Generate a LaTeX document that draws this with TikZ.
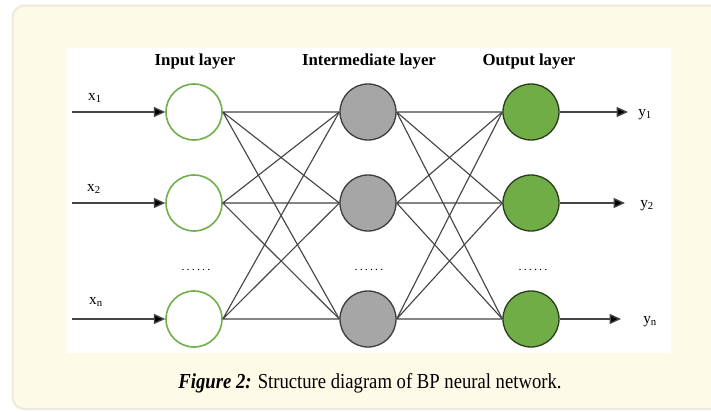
\documentclass[tikz,border=0pt]{standalone}
\usepackage{fontspec}
\setmainfont{Liberation Serif}
\newfontfamily\dotfont[LetterSpace=18]{Liberation Serif}
\usetikzlibrary{arrows.meta}

\definecolor{panelcream}{HTML}{FEFAE8}
\definecolor{panelrim}{HTML}{EDE9DE}
\definecolor{inrim}{HTML}{6FB04A}
\definecolor{hidfill}{HTML}{A6A6A6}
\definecolor{hidrim}{HTML}{3F3F3F}
\definecolor{outfill}{HTML}{70AD47}
\definecolor{outrim}{HTML}{2C3F20}
\definecolor{wire}{HTML}{454545}

\begin{document}
\begin{tikzpicture}
        [x=0.75pt, y=-0.75pt,
        neuron/.style={circle, draw, minimum size=42pt, inner sep=0pt},
        input/.style={neuron, draw=inrim, fill=white, line width=1.2pt},
        hidden/.style={neuron, draw=hidrim, fill=hidfill, line width=1pt},
        output/.style={neuron, draw=outrim, fill=outfill, line width=1pt},
        edge/.style={wire, line width=0.85pt},
        signal/.style={wire, line width=1pt, -{Triangle[length=8.5pt, width=7.5pt, fill=black]}},
        layer/.style={font=\fontsize{12.6}{14}\selectfont\bfseries, anchor=base},
        var/.style={font=\fontsize{11.5}{13}\selectfont, anchor=base},
        gap/.style={font=\fontsize{9}{11}\dotfont, anchor=base},
        inner sep=0pt]

        % page, cream panel and white figure area
        \useasboundingbox (0,0) rectangle (711,411);
        \fill[white] (0,0) rectangle (711,411);
        \filldraw[fill=panelcream, draw=panelrim, line width=1.5pt, rounded corners=9pt]
            (12.5,5.5) rectangle (740,409);
        \fill[white] (67,48) rectangle (671,353);

        % layer titles
        \node[layer] (tin) at (195,65) {Input layer};
        \node[layer] (thid) at (369,65) {Intermediate layer};
        \node[layer] (tout) at (529,65) {Output layer};

        % neurons
        \node[input] (i1) at (194,112) {};
        \node[input] (i2) at (194,203) {};
        \node[input] (in) at (194,319) {};
        \node[hidden] (h1) at (368,112) {};
        \node[hidden] (h2) at (368,203) {};
        \node[hidden] (hn) at (368,319) {};
        \node[output] (o1) at (531,112) {};
        \node[output] (o2) at (531,203) {};
        \node[output] (on) at (531,319) {};

        % the "......" between row 2 and row n
        \node[gap] (gin) at (196,270) {......};
        \node[gap] (ghid) at (369,270) {......};
        \node[gap] (gout) at (533,270) {......};

        % input layer -> intermediate layer
        \draw[edge] (i1.east) -- (h1.west) (i1.east) -- (h2.west) (i1.east) -- (hn.west);
        \draw[edge] (i2.east) -- (h1.west) (i2.east) -- (h2.west) (i2.east) -- (hn.west);
        \draw[edge] (in.east) -- (h1.west) (in.east) -- (h2.west) (in.east) -- (hn.west);

        % intermediate layer -> output layer
        \draw[edge] (h1.east) -- (o1.west) (h1.east) -- (o2.west) (h1.east) -- (on.west);
        \draw[edge] (h2.east) -- (o1.west) (h2.east) -- (o2.west) (h2.east) -- (on.west);
        \draw[edge] (hn.east) -- (o1.west) (hn.east) -- (o2.west) (hn.east) -- (on.west);

        % inputs: free ends left of the input layer
        \coordinate (x1) at (72,112);
        \coordinate (x2) at (72,203);
        \coordinate (xn) at (72,319);
        \draw[signal] (x1) -- (i1.west);
        \draw[signal] (x2) -- (i2.west);
        \draw[signal] (xn) -- (in.west);
        \node[var] (lx1) at (95,100) {x\textsubscript{1}};
        \node[var] (lx2) at (94,191) {x\textsubscript{2}};
        \node[var] (lxn) at (96,304) {x\textsubscript{n}};

        % outputs: free ends right of the output layer
        \coordinate (y1) at (628,112);
        \coordinate (y2) at (625,203);
        \coordinate (yn) at (621,319);
        \draw[signal] (o1.east) -- (y1);
        \draw[signal] (o2.east) -- (y2);
        \draw[signal] (on.east) -- (yn);
        \node[var, anchor=base west] (ly1) at (638,116) {y\textsubscript{1}};
        \node[var, anchor=base west] (ly2) at (640,207) {y\textsubscript{2}};
        \node[var, anchor=base west] (lyn) at (643,323) {y\textsubscript{n}};

        % caption
        \node[font=\fontsize{16}{18}\selectfont, anchor=base] (cap) at (370,388)
            {\scalebox{0.875}[1]{\textbf{\textit{Figure 2:}} Structure diagram of BP neural network.}};
\end{tikzpicture}
\end{document}
